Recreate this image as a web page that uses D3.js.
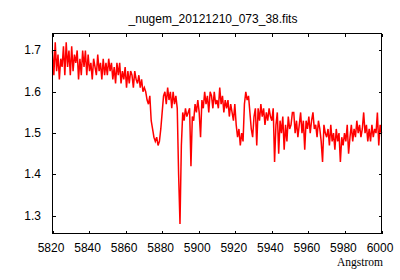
<!DOCTYPE html>
<html><head><meta charset="utf-8">
<script src="https://cdn.jsdelivr.net/npm/d3@7"></script>
<style>body{margin:0;background:#fff}svg{display:block}</style>
</head><body>
<script>
const title = "_nugem_20121210_073_38.fits";
const xLabel = "Angstrom";
const waveStart = 5820, waveStep = 0.75;
const flux = [
1.70,1.64,1.72,1.65, 1.69,1.63,1.68,1.66, 1.71,1.64,1.72,1.66, 1.70,1.64,1.71,1.65,
1.69,1.67,1.70,1.63, 1.68,1.64,1.70,1.66, 1.70,1.64,1.69,1.65, 1.67,1.63,1.68,1.66,
1.64,1.69,1.65,1.67, 1.63,1.68,1.64,1.67, 1.64,1.68,1.65,1.67, 1.63,1.66,1.62,1.67,
1.64,1.67,1.62,1.65, 1.63,1.66,1.61,1.65, 1.62,1.65,1.64,1.61, 1.65,1.63,1.62,1.64,
1.61,1.63,1.60,1.61, 1.60,1.58,1.57,1.59, 1.53,1.51,1.49,1.48, 1.49,1.47,1.48,1.51,
1.55,1.59,1.60,1.57, 1.61,1.58,1.60,1.56, 1.60,1.57,1.59,1.56, 1.40,1.28,1.47,1.55,
1.53,1.56,1.54,1.55, 1.56,1.42,1.54,1.53, 1.57,1.55,1.58,1.55, 1.49,1.58,1.56,1.60,
1.57,1.59,1.55,1.60, 1.59,1.56,1.60,1.57, 1.58,1.56,1.61,1.57, 1.59,1.55,1.58,1.56,
1.58,1.54,1.57,1.55, 1.53,1.57,1.52,1.49, 1.51,1.47,1.50,1.48, 1.57,1.60,1.58,1.59,
1.55,1.51,1.49,1.54, 1.56,1.47,1.56,1.53, 1.57,1.54,1.56,1.52, 1.55,1.53,1.56,1.54,
1.53,1.56,1.43,1.52, 1.55,1.45,1.53,1.50, 1.54,1.46,1.52,1.48, 1.54,1.51,1.52,1.55,
1.55,1.50,1.53,1.49, 1.52,1.55,1.50,1.53, 1.46,1.53,1.51,1.54, 1.50,1.53,1.55,1.51,
1.52,1.49,1.53,1.51, 1.48,1.43,1.52,1.50, 1.49,1.51,1.47,1.52, 1.48,1.50,1.46,1.51,
1.48,1.50,1.43,1.49, 1.47,1.50,1.48,1.52, 1.45,1.49,1.52,1.48, 1.51,1.49,1.53,1.50,
1.52,1.49,1.51,1.55, 1.50,1.52,1.48,1.51, 1.48,1.52,1.49,1.51, 1.50,1.55,1.47,1.52,
1.50];
const xTicks = [5820,5840,5860,5880,5900,5920,5940,5960,5980,6000];
const yTicks = [1.3,1.4,1.5,1.6,1.7];
const xDomain = [5820, 6000];
const yDomain = [1.257, 1.741];

const data = flux.map((f,i)=>({w: waveStart + i*waveStep, f}));

const W=400,H=280, L=52.5, R=381.5, T=33.5, B=233.5;
const svg = d3.select("body").append("svg").attr("width",W).attr("height",H);
const x = d3.scaleLinear().domain(xDomain).range([L,R]);
const y = d3.scaleLinear().domain(yDomain).range([B,T]);
const font = "'Liberation Sans', Arial, sans-serif";

svg.append("path").datum(data)
  .attr("d", d3.line().x(d=>x(d.w)).y(d=>y(d.f)))
  .attr("fill","none").attr("stroke","#ff0000").attr("stroke-width",1.5)
  .attr("stroke-linejoin","miter");

const g = svg.append("g").attr("stroke","#000").attr("stroke-width",1).attr("shape-rendering","crispEdges");
g.append("rect").attr("x",L).attr("y",T).attr("width",R-L).attr("height",B-T).attr("fill","none");
xTicks.forEach(t=>{
  const px = Math.round(x(t))+0.5;
  g.append("line").attr("x1",px).attr("x2",px).attr("y1",B).attr("y2",B-3);
  g.append("line").attr("x1",px).attr("x2",px).attr("y1",T).attr("y2",T+3);
});
yTicks.forEach(t=>{
  const py = Math.round(y(t))+0.5;
  g.append("line").attr("x1",L).attr("x2",L+3).attr("y1",py).attr("y2",py);
  g.append("line").attr("x1",R).attr("x2",R-3).attr("y1",py).attr("y2",py);
});

svg.append("g").selectAll("text").data(xTicks).join("text")
  .attr("x",d=>x(d)-1.5).attr("y",252).attr("text-anchor","middle")
  .attr("font-family",font).attr("font-size",12).attr("fill","#000").text(d=>d);
svg.append("g").selectAll("text").data(yTicks).join("text")
  .attr("x",41).attr("y",d=>y(d)+4).attr("text-anchor","end")
  .attr("font-family",font).attr("font-size",12).attr("fill","#000").text(d=>d3.format(".1f")(d));

svg.append("text").attr("x",213).attr("y",23).attr("text-anchor","middle")
  .attr("font-family",font).attr("font-size",12).attr("fill","#000").text(title);
svg.append("text").attr("x",383).attr("y",265.5).attr("text-anchor","end")
  .attr("font-family","'Liberation Serif', 'DejaVu Serif', serif").attr("font-size",11.5).attr("fill","#000").text(xLabel);
</script>
</body></html>
